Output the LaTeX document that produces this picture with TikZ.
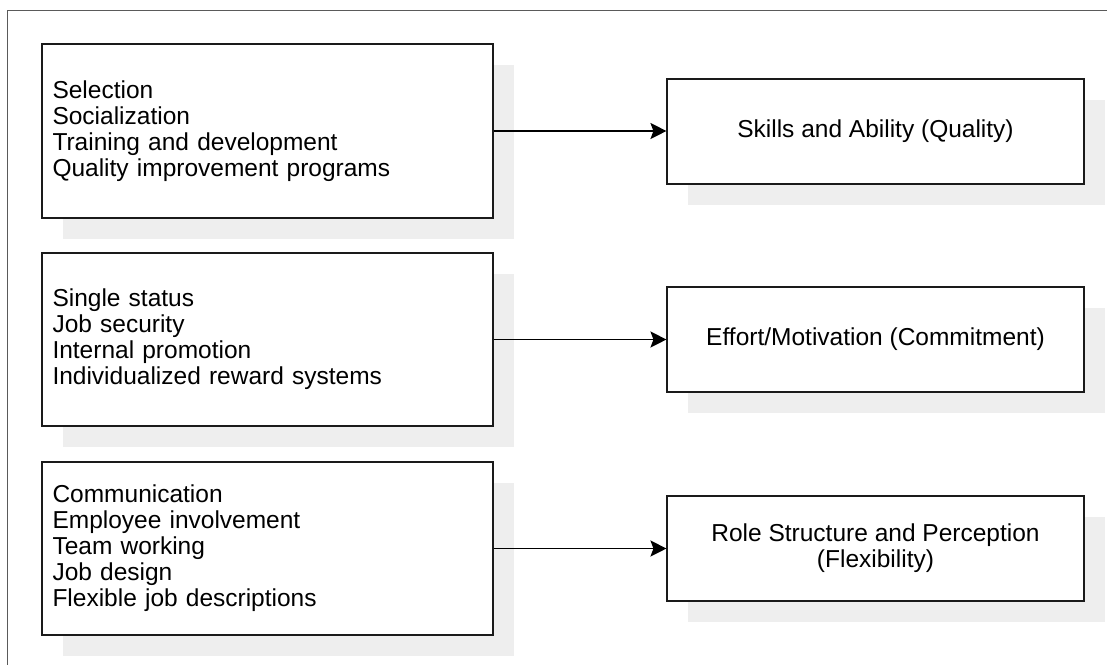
\documentclass[tikz,border=0pt]{standalone}
\usepackage{fontspec}
\setmainfont{Liberation Sans}
\usetikzlibrary{arrows.meta,shadows}
\definecolor{shadowgray}{HTML}{EEEEEE}
\definecolor{framegray}{HTML}{5A5A5A}
\definecolor{boxline}{HTML}{1A1A1A}
\begin{document}
\begin{tikzpicture}[x=1pt,y=-1pt,
  every node/.style={font=\fontsize{24.5}{26}\selectfont},
  shbox/.style={draw=boxline, line width=1.1pt, fill=white, rectangle,
    general shadow={fill=shadowgray, shadow xshift=21pt, shadow yshift=-21pt}},
  leftbox/.style={shbox, minimum width=451pt, text width=430pt, inner xsep=10.5pt, align=left, minimum height=174pt},
  rightbox/.style={shbox, minimum width=417pt, minimum height=105pt, align=center},
  link/.style={draw=black, line width=1.6pt, -{Stealth[length=16pt, width=16pt, inset=3pt]}}
]
\useasboundingbox (0,0) rectangle (1107,664);
\clip (0,0) rectangle (1107,664);
\draw[framegray, line width=1.1pt] (7.5,10.5) rectangle (1130,690);

\node[leftbox, minimum height=174pt] (l1) at (267.5,131) {Selection\\Socialization\\Training and development\\Quality improvement programs};
\node[leftbox, minimum height=173pt] (l2) at (267.5,339.5) {Single status\\Job security\\Internal promotion\\Individualized reward systems};
\node[leftbox, minimum height=173pt] (l3) at (267.5,548.5) {Communication\\Employee involvement\\Team working\\Job design\\Flexible job descriptions};

\node[rightbox] (r1) at (875.5,131.5) {Skills and Ability (Quality)};
\node[rightbox] (r2) at (875.5,339.5) {Effort/Motivation (Commitment)};
\node[rightbox] (r3) at (875.5,548.5) {Role Structure and Perception\\(Flexibility)};

\draw[link] (l1.east) -- (l1.east -| r1.west);
\draw[link] (l2.east) -- (l2.east -| r2.west);
\draw[link] (l3.east) -- (l3.east -| r3.west);
\end{tikzpicture}
\end{document}
